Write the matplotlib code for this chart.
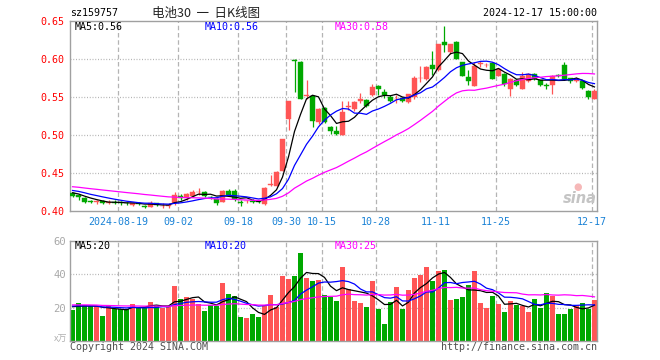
import numpy as np
import matplotlib
matplotlib.use("Agg")
import matplotlib.pyplot as plt

# ---------------- data ----------------
dates = ["08-07","08-08","08-09","08-12","08-13","08-14","08-15","08-16","08-19","08-20",
         "08-21","08-22","08-23","08-26","08-27","08-28","08-29","08-30","09-02","09-03",
         "09-04","09-05","09-06","09-09","09-10","09-11","09-12","09-13","09-18","09-19",
         "09-20","09-23","09-24","09-25","09-26","09-27","09-30","10-08","10-09","10-10",
         "10-11","10-14","10-15","10-16","10-17","10-18","10-21","10-22","10-23","10-24",
         "10-25","10-28","10-29","10-30","10-31","11-01","11-04","11-05","11-06","11-07",
         "11-08","11-11","11-12","11-13","11-14","11-15","11-18","11-19","11-20","11-21",
         "11-22","11-25","11-26","11-27","11-28","11-29","12-02","12-03","12-04","12-05",
         "12-06","12-09","12-10","12-11","12-12","12-13","12-16","12-17"]

opens = [0.4234,0.4205,0.4176,0.4130,0.4120,0.4135,0.4105,0.4125,0.4118,0.4110,
         0.4085,0.4110,0.4070,0.4055,0.4100,0.4065,0.4060,0.4102,0.4198,0.4170,
         0.4200,0.4245,0.4256,0.4190,0.4154,0.4123,0.4269,0.4269,0.4125,0.4130,
         0.4130,0.4130,0.4090,0.4344,0.4330,0.4520,0.5204,0.5990,0.5960,0.5510,
         0.5510,0.5170,0.5360,0.5110,0.5050,0.5005,0.5365,0.5340,0.5450,0.5460,
         0.5520,0.5645,0.5566,0.5500,0.5470,0.5490,0.5433,0.5500,0.5745,0.5743,
         0.5920,0.5860,0.6227,0.6086,0.6220,0.5954,0.5760,0.5650,0.5935,0.5920,
         0.5950,0.5777,0.5800,0.5610,0.5724,0.5610,0.5711,0.5800,0.5724,0.5660,
         0.5654,0.5785,0.5920,0.5746,0.5711,0.5711,0.5578,0.5478]
highs = [0.4245,0.4230,0.4190,0.4150,0.4150,0.4145,0.4140,0.4150,0.4130,0.4125,
         0.4125,0.4115,0.4080,0.4130,0.4110,0.4100,0.4100,0.4250,0.4230,0.4240,
         0.4280,0.4300,0.4260,0.4200,0.4170,0.4280,0.4290,0.4290,0.4140,0.4150,
         0.4155,0.4140,0.4310,0.4476,0.4520,0.4950,0.5446,0.5995,0.5975,0.5724,
         0.5510,0.5360,0.5370,0.5120,0.5120,0.5445,0.5450,0.5450,0.5550,0.5470,
         0.5676,0.5660,0.5610,0.5520,0.5530,0.5500,0.5540,0.5770,0.5910,0.5910,
         0.6110,0.6200,0.6440,0.6200,0.6235,0.5960,0.5850,0.5960,0.5970,0.5950,
         0.5960,0.5870,0.5810,0.5745,0.5740,0.5830,0.5820,0.5820,0.5730,0.5690,
         0.5790,0.5800,0.5960,0.5755,0.5760,0.5730,0.5590,0.5610]
lows = [0.4185,0.4150,0.4110,0.4100,0.4090,0.4095,0.4090,0.4090,0.4085,0.4085,
        0.4070,0.4075,0.4040,0.4050,0.4065,0.4045,0.4040,0.4080,0.4140,0.4150,
        0.4180,0.4210,0.4190,0.4160,0.4085,0.4115,0.4210,0.4130,0.4065,0.4110,
        0.4100,0.4105,0.4085,0.4330,0.4330,0.4520,0.5070,0.5565,0.5470,0.5470,
        0.5110,0.5150,0.5160,0.5010,0.4995,0.4995,0.5330,0.5320,0.5420,0.5370,
        0.5510,0.5520,0.5490,0.5430,0.5420,0.5430,0.5420,0.5470,0.5700,0.5730,
        0.5790,0.5840,0.6090,0.6060,0.6000,0.5770,0.5660,0.5640,0.5890,0.5890,
        0.5735,0.5770,0.5650,0.5510,0.5640,0.5600,0.5700,0.5720,0.5650,0.5600,
        0.5535,0.5760,0.5720,0.5690,0.5700,0.5600,0.5480,0.5478]
closes = [0.4200,0.4190,0.4120,0.4115,0.4128,0.4110,0.4112,0.4110,0.4105,0.4100,
          0.4105,0.4090,0.4055,0.4105,0.4075,0.4072,0.4085,0.4212,0.4170,0.4220,
          0.4250,0.4255,0.4198,0.4180,0.4100,0.4269,0.4216,0.4154,0.4100,0.4135,
          0.4115,0.4115,0.4300,0.4360,0.4507,0.4950,0.5446,0.5970,0.5480,0.5530,
          0.5190,0.5340,0.5170,0.5050,0.5010,0.5300,0.5375,0.5430,0.5470,0.5380,
          0.5637,0.5600,0.5520,0.5446,0.5480,0.5450,0.5535,0.5755,0.5755,0.5900,
          0.5875,0.6197,0.6180,0.6197,0.6005,0.5775,0.5710,0.5910,0.5940,0.5925,
          0.5740,0.5866,0.5667,0.5743,0.5654,0.5770,0.5800,0.5733,0.5654,0.5650,
          0.5770,0.5780,0.5740,0.5712,0.5743,0.5624,0.5505,0.5578]
volumes = [18.6,22.6,21.6,21.0,21.0,15.0,21.0,19.2,19.2,19.2,
           22.2,20.4,20.4,23.6,21.0,19.8,20.2,33.0,25.2,26.4,
           25.2,22.2,18.2,21.6,21.0,34.8,28.2,27.0,14.4,13.8,
           16.2,14.4,21.0,27.6,20.6,39.0,37.0,39.0,52.8,37.8,
           36.0,36.6,27.6,26.6,24.2,44.6,31.2,24.2,23.0,20.6,
           36.2,19.4,10.2,23.6,32.6,19.4,30.6,38.0,39.8,44.6,
           36.2,42.2,42.8,24.8,25.4,26.6,33.8,42.2,23.0,20.0,
           27.2,22.4,17.6,24.2,21.6,21.0,17.6,25.4,20.0,29.0,
           27.2,16.4,16.4,19.2,21.6,22.8,19.2,24.8]

# sessions before the visible window (only used to seed the moving averages)
pre_closes = [0.440,0.441,0.439,0.437,0.438,0.436,0.437,0.435,0.436,0.434,
              0.433,0.434,0.432,0.433,0.431,0.432,0.430,0.431,0.429,0.430,
              0.431,0.430,0.432,0.429,0.428,0.427,0.426,0.424,0.423]
pre_volumes = [22.5,21.8,22.0,23.1,21.5,22.4,21.9,22.8,21.2,22.0,
               21.7,22.3,21.6,22.1,21.4,22.6,21.9,21.3,22.2,21.8,
               21.5,22.0,21.1,21.7,20.8,21.3,20.6,21.4,20.9]

tick_dates = ["2024-08-19","09-02","09-18","09-30","10-15","10-28","11-11","11-25","12-17"]
tick_index = [8, 18, 28, 36, 42, 51, 61, 71, 87]
price_ticks = [0.40, 0.45, 0.50, 0.55, 0.60, 0.65]
vol_ticks = [20, 40, 60]
price_ma_labels = ["MA5:0.56", "MA10:0.56", "MA30:0.58"]
vol_ma_labels = ["MA5:20", "MA10:20", "MA30:25"]
code = "sz159757"
title = "电池30  一  日K线图"
stamp = "2024-12-17 15:00:00"

# ---------------- style ----------------
W, H = 660, 360
RED = "#ff5555"
GREEN = "#00a800"
MA_COLORS = ["#000000", "#0000ff", "#ff00ff"]
GRID = "#b4b4b4"
FRAME = "#a0a0a0"
MONO = "DejaVu Sans Mono"

def fx(px):
    return px / W

def fy(py):
    return 1 - py / H

fig = plt.figure(figsize=(W / 100, H / 100), dpi=100)
fig.patch.set_facecolor("white")

ax = fig.add_axes([fx(70), fy(211), (597 - 70) / W, (211 - 21) / H])
axv = fig.add_axes([fx(70), fy(341), (597 - 70) / W, (341 - 241) / H])

n = len(closes)
x = np.arange(n)
o = np.array(opens); c = np.array(closes); h = np.array(highs); l = np.array(lows)
up = c >= o
cols = [RED if u else GREEN for u in up]

def rolling(vals, k):
    s = np.convolve(vals, np.ones(k) / k, mode="valid")
    return s

full_c = np.array(pre_closes + closes)
full_v = np.array(pre_volumes + volumes)
npre = len(pre_closes)

for a in (ax, axv):
    for i in tick_index:
        a.axvline(i - 0.42, color=GRID, lw=0.9, linestyle=(0, (3.6, 2.2)), zorder=0)

# price grid
for p in price_ticks[1:-1]:
    ax.axhline(p, color=GRID, lw=0.9, linestyle=(0, (0.8, 1.4)), zorder=0)

# candles
ax.vlines(x, l, h, colors=cols, lw=0.9, zorder=2)
body_b = np.minimum(o, c)
body_h = np.maximum(np.abs(c - o), 0.0007)
ax.bar(x, body_h, bottom=body_b, width=0.72, color=cols, edgecolor=cols, lw=0.3, zorder=3)

# price moving averages
for k, col in zip([5, 10, 30], MA_COLORS):
    m = rolling(full_c, k)
    m = m[len(m) - n:]
    ax.plot(x, m, color=col, lw=0.9, zorder=4)

ax.set_xlim(-0.42, 87.42)
ax.set_ylim(0.40, 0.65)
ax.set_yticks(price_ticks)
ax.set_yticklabels(["%.2f" % p for p in price_ticks], color="#ff0000", fontsize=7.2, family=MONO)
ax.set_xticks([i - 0.42 for i in tick_index])
ax.set_xticklabels(tick_dates, color="#1a82d6", fontsize=7.2, family=MONO)
ax.tick_params(length=0, pad=4)
ax.tick_params(axis="y", pad=4)

# volume
axv.bar(x, volumes, width=0.82, color=cols, lw=0, zorder=2)
for p in [20, 40]:
    axv.axhline(p, color=GRID, lw=0.9, linestyle=(0, (0.8, 1.4)), zorder=0)
for k, col in zip([5, 10, 30], MA_COLORS):
    m = rolling(full_v, k)
    m = m[len(m) - n:]
    axv.plot(x, m, color=col, lw=0.9, zorder=4)
axv.set_xlim(-0.42, 87.42)
axv.set_ylim(0, 60)
axv.set_yticks(vol_ticks)
axv.set_yticklabels([str(v) for v in vol_ticks], color="#a8a8a8", fontsize=7.6, family=MONO)
axv.set_xticks([])
axv.tick_params(length=0, pad=3)

for a in (ax, axv):
    for s in a.spines.values():
        s.set_color(FRAME)
        s.set_linewidth(1.0)

# MA labels
ma_x = [75, 205, 335]
for lab, col, px in zip(price_ma_labels, MA_COLORS, ma_x):
    fig.text(fx(px), fy(27), lab, color=col, fontsize=7.2, family=MONO, va="center", ha="left")
for lab, col, px in zip(vol_ma_labels, MA_COLORS, ma_x):
    fig.text(fx(px), fy(246), lab, color=col, fontsize=7.2, family=MONO, va="center", ha="left")

# header
fig.text(fx(70), fy(13.5), code, color="#000000", fontsize=7.2, family=MONO, va="center", ha="left")
fig.text(fx(206), fy(13), title, color="#222222", fontsize=9,
         family=["Noto Sans CJK SC", "DejaVu Sans"], va="center", ha="center")
fig.text(fx(597), fy(13.5), stamp, color="#000000", fontsize=7.2, family=MONO, va="center", ha="right")

# footer
fig.text(fx(70), fy(346.5), "Copyright 2024 SINA.COM", color="#505050", fontsize=7.2, family=MONO,
         va="center", ha="left")
fig.text(fx(597), fy(346.5), "http://finance.sina.com.cn", color="#505050", fontsize=7.2, family=MONO,
         va="center", ha="right")
fig.text(fx(67), fy(339), "x万", color="#b0b0b0", fontsize=6.5,
         family=["Noto Sans CJK SC", "DejaVu Sans"], va="center", ha="right")

# watermark
fig.text(fx(580), fy(198), "sina", color="#c4c4c4", fontsize=10.5, fontweight="bold",
         fontstyle="italic", va="center", ha="center", family="DejaVu Sans")
fig.text(fx(578), fy(187), "●", color="#f6b8b8", fontsize=7, va="center", ha="center",
         family="DejaVu Sans")

fig.savefig("out.png", dpi=100, facecolor="white")
